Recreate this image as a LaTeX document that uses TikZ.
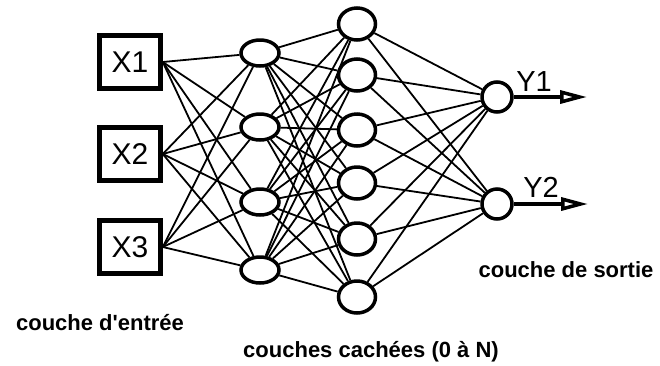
\documentclass[tikz,border=0pt]{standalone}
\usepackage{fontspec}
\setmainfont{Liberation Sans}
\usepackage{tikz}
\usetikzlibrary{arrows.meta, shapes.geometric}

\begin{document}
\begin{tikzpicture}[x=1pt,y=-1pt,
    inbox/.style={draw, line width=4.5pt, minimum width=61pt, minimum height=53pt,
      inner sep=0pt, font=\fontsize{30}{30}\selectfont},
    neuroneA/.style={draw, ellipse, line width=3.5pt, minimum width=38pt,
      minimum height=26pt, inner sep=0pt},
    neuroneB/.style={draw, ellipse, line width=3.5pt, minimum width=37pt,
      minimum height=32pt, inner sep=0pt},
    neuroneS/.style={draw, circle, line width=3.5pt, minimum size=30pt, inner sep=0pt},
    lien/.style={line width=1.8pt},
    sortie/.style={line width=3.5pt, -{Triangle[open, length=27pt, width=13pt]}},
    legende/.style={anchor=base, font=\fontsize{22}{22}\selectfont\bfseries},
    ylabel/.style={anchor=base, font=\fontsize{29}{29}\selectfont}]
  \useasboundingbox (0,0) rectangle (660,365);
  % entrees
  \foreach \y/\n in {62/1, 154/2, 247/3}
    {\node[inbox] (x\n) at (130,\y) {X\n};}
  % couches cachees
  \foreach \y/\n in {53/1, 127/2, 202/3, 270/4}
    {\node[neuroneA] (a\n) at (260,\y) {};}
  \foreach \y/\n in {24/1, 75/2, 130/3, 183/4, 239/5, 297/6}
    {\node[neuroneB] (b\n) at (357,\y) {};}
  % sorties
  \foreach \y/\n in {97/1, 204/2}
    {\node[neuroneS] (s\n) at (497,\y) {};}
  \foreach \i in {1,2,3}
    \foreach \j in {1,...,4}
      {\draw[lien] (x\i.east) -- (a\j);}
  \foreach \i in {1,...,4}
    \foreach \j in {1,...,6}
      {\draw[lien] (a\i) -- (b\j);}
  \foreach \i in {1,...,6}
    \foreach \j in {1,2}
      {\draw[lien] (b\i) -- (s\j);}
  \coordinate (t1) at (587,97);
  \coordinate (t2) at (588,204);
  \draw[sortie] (s1.east) -- (t1);
  \draw[sortie] (s2.east) -- (t2);
  \node[ylabel] (y1) at (534,91) {Y1};
  \node[ylabel] (y2) at (541,197) {Y2};
  % legendes
  \node[legende] (lentree) at (100,330) {couche d\textquotesingle entrée};
  \node[legende] (lcachees) at (371,357) {couches cachées (0 à N)};
  \node[legende] (lsortie) at (566,277) {couche de sortie};
\end{tikzpicture}
\end{document}
